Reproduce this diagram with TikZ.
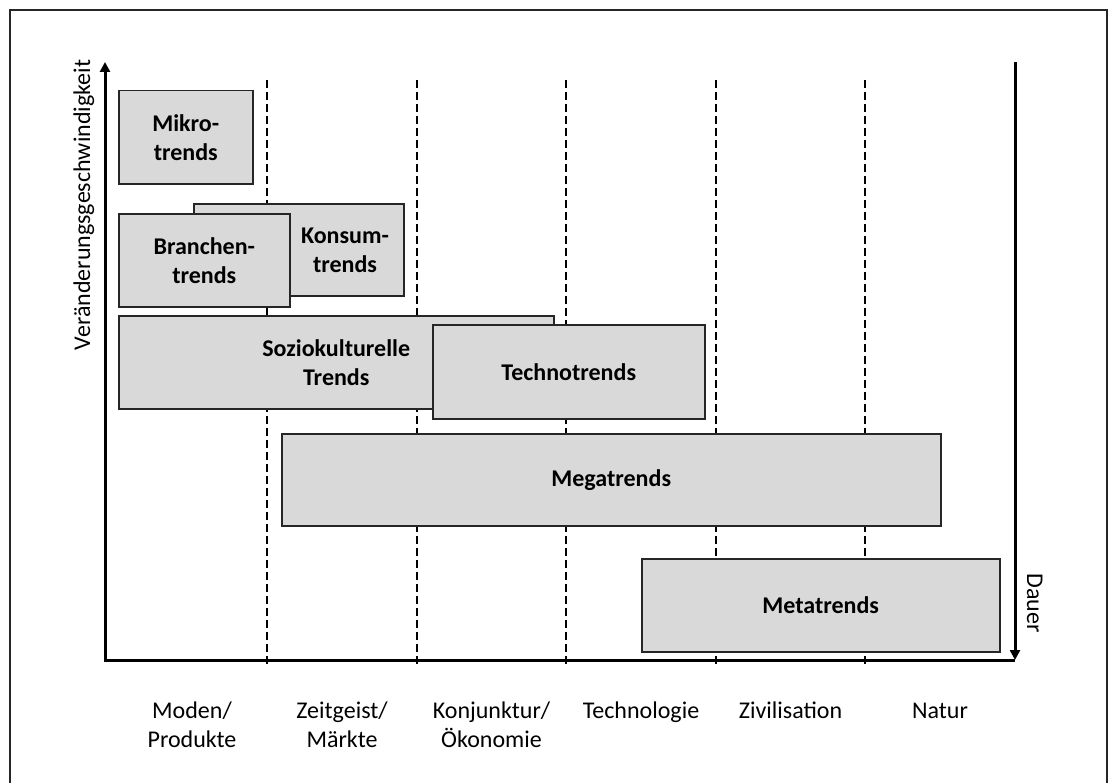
\documentclass[tikz,border=0pt]{standalone}
\usepackage{fontspec}
\setmainfont{Carlito}
\usetikzlibrary{arrows.meta}
\definecolor{boxfill}{HTML}{D9D9D9}
\definecolor{boxline}{HTML}{262626}
\begin{document}
\begin{tikzpicture}[x=1bp,y=-1bp,
  trendbox/.style={draw=boxline, line width=1.5bp, fill=boxfill, inner sep=0pt,
    anchor=north west, font=\fontsize{24bp}{29bp}\selectfont\bfseries, align=center},
  boxtext/.style={inner sep=0pt, align=center, font=\fontsize{24bp}{29bp}\selectfont\bfseries},
  phase/.style={inner sep=0pt, align=center, anchor=base, font=\fontsize{24bp}{29bp}\selectfont},
  axislabel/.style={inner sep=0pt, anchor=base, font=\fontsize{24bp}{29bp}\selectfont},
  axisline/.style={line width=3bp},
  divider/.style={line width=2.3bp, dash pattern=on 8bp off 4bp},
  tip/.style={-{Triangle[length=10bp,width=10bp]}}]
\useasboundingbox (0,0) rectangle (1109,783);
\draw[line width=1.5bp, draw=boxline] (10,10) rectangle (1107,800);

% column dividers
\foreach \x/\n in {267/a,417/b,566/c,716/d,865/e} {
  \coordinate (top\n) at (\x,80);
  \coordinate (bot\n) at (\x,668);
  \draw[divider] (top\n) -- (bot\n);
}

% trend boxes (back to front)
\node[trendbox, minimum width=134bp, minimum height=93bp] (mikro) at (118,90) {Mikro-\\trends};
\node[trendbox, minimum width=210bp, minimum height=92bp] (konsum) at (193,203) {};
\node[boxtext] (konsumtext) at (345,250) {Konsum-\\trends};
\node[trendbox, minimum width=171bp, minimum height=93bp] (branchen) at (118,213) {Branchen-\\trends};
\node[trendbox, minimum width=435bp, minimum height=93bp] (sozio) at (118,315) {Soziokulturelle\\Trends};
\node[trendbox, minimum width=272bp, minimum height=94bp] (techno) at (432,324) {Technotrends};
\node[trendbox, minimum width=659bp, minimum height=92bp] (mega) at (281,433) {Megatrends};
\node[trendbox, minimum width=358bp, minimum height=93bp] (meta) at (641,558) {Metatrends};

% axes
\coordinate (origin) at (105,660);
\coordinate (ytop) at (105,62);
\coordinate (xend) at (1015,660);
\coordinate (rtop) at (1015,62);
\draw[axisline, {Triangle[length=10bp,width=10bp]}-] (ytop) -- (origin) -- (xend);
\draw[axisline, tip] (rtop) -- (xend);

\node[axislabel, rotate=90] (speed) at (90,205) {Veränderungsgeschwindigkeit};
\node[axislabel, rotate=-90] (duration) at (1027,603) {Dauer};

% phases along the time axis (base anchor sits on the last line)
\node[phase] (p1) at (192,747) {Moden/\\Produkte};
\node[phase] (p2) at (342,747) {Zeitgeist/\\Märkte};
\node[phase] (p3) at (491.5,747) {Konjunktur/\\Ökonomie};
\node[phase] (p4) at (641,718) {Technologie};
\node[phase] (p5) at (790.5,718) {Zivilisation};
\node[phase] (p6) at (940,718) {Natur};
\end{tikzpicture}
\end{document}
